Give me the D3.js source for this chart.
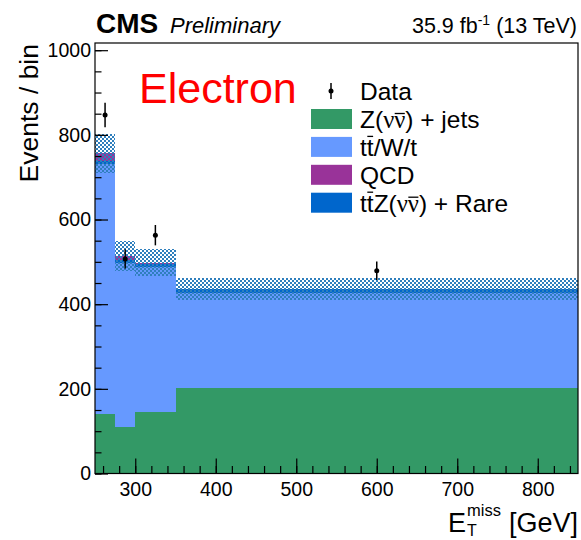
<!DOCTYPE html>
<html>
<head>
<meta charset="utf-8">
<script src="https://cdn.jsdelivr.net/npm/d3@7"></script>
<style>
  body { margin: 0; background: #fff; }
  text { font-family: "Liberation Sans", Arial, sans-serif; fill: #000; }
  .axis text { font-size: 19.5px; font-family: "Liberation Sans", Arial, sans-serif; }
  .axis line { stroke: #000; stroke-width: 1.2; }
  .legend text { font-size: 24.5px; }
  .nu { font-family: "Liberation Serif", serif; }
</style>
</head>
<body>
<div id="chart"></div>
<script>
// bin edges of the MET distribution (GeV)
const binEdges = [250, 275, 300, 350, 850];

// stacked backgrounds, events per bin
const zJets = [140, 111, 146, 202];
const ttW   = [590, 387, 342, 225];
const ttZ   = [8, 6, 7, 8];
const qcd   = [18, 10, 3, 2];
const bkgUnc = [47, 35, 32, 26];

// observed data
const dataY   = [847, 507, 563, 479];
const dataErr = [29, 23, 24, 22];

// ticks
const yMajor = [0, 200, 400, 600, 800, 1000];
const yMinor = d3.range(0, 1001, 50);
const xMajor = [300, 400, 500, 600, 700, 800];
const xMinor = d3.range(260, 850, 20);

const W = 581, H = 540;
const plot = {left: 95, right: 578, top: 43, bottom: 473.5};

const svg = d3.select("#chart")
    .append("svg")
        .attr("width", W)
        .attr("height", H);

// hatch pattern for the uncertainty band
const defs = svg.append("defs");
const pat = defs.append("pattern")
    .attr("id", "hatch")
    .attr("patternUnits", "userSpaceOnUse")
    .attr("width", 4)
    .attr("height", 4);
pat.append("rect").attr("x", 0).attr("y", 0).attr("width", 2).attr("height", 2).attr("fill", "#2f7fbd");
pat.append("rect").attr("x", 2).attr("y", 2).attr("width", 2).attr("height", 2).attr("fill", "#2f7fbd");

const x = d3.scaleLinear().domain([250, 850]).range([plot.left, plot.right]);
const y = d3.scaleLinear().domain([0, 1017]).range([plot.bottom, plot.top]);

// table for the stack
const bins = binEdges.slice(0, -1).map(function(lo, i) {
    return {lo: lo, hi: binEdges[i + 1], z: zJets[i], tt: ttW[i], ttz: ttZ[i], qcd: qcd[i]};
});
const keys = ["z", "tt", "ttz", "qcd"];
const colors = {z: "#339966", tt: "#6699ff", ttz: "#0066cc", qcd: "#993399"};
const series = d3.stack().keys(keys)(bins);

const stackG = svg.append("g");
series.forEach(function(s) {
    stackG.selectAll(null)
        .data(s)
        .enter()
        .append("rect")
            .attr("x", function(d) { return x(d.data.lo); })
            .attr("width", function(d) { return x(d.data.hi) - x(d.data.lo); })
            .attr("y", function(d) { return y(d[1]); })
            .attr("height", function(d) { return y(d[0]) - y(d[1]); })
            .attr("fill", colors[s.key])
            .attr("shape-rendering", "crispEdges");
});

// uncertainty band around the total
const totals = bins.map(function(b) { return b.z + b.tt + b.ttz + b.qcd; });
svg.append("g")
    .selectAll("rect")
    .data(bins)
    .enter()
    .append("rect")
        .attr("x", function(d) { return x(d.lo); })
        .attr("width", function(d) { return x(d.hi) - x(d.lo); })
        .attr("y", function(d, i) { return y(totals[i] + bkgUnc[i]); })
        .attr("height", function(d, i) { return y(totals[i] - bkgUnc[i]) - y(totals[i] + bkgUnc[i]); })
        .attr("fill", "url(#hatch)")
        .attr("shape-rendering", "crispEdges");

// axes
svg.append("g")
    .attr("class", "axis")
    .attr("transform", `translate(${plot.left},0)`)
    .call(d3.axisLeft(y).tickValues(yMajor).tickSize(-13).tickPadding(4).tickFormat(d3.format("d")))
    .call(function(g) { return g.select(".domain").remove(); });
svg.append("g")
    .attr("class", "axis")
    .attr("transform", `translate(${plot.left},0)`)
    .call(d3.axisLeft(y).tickValues(yMinor).tickSize(-6.5).tickFormat(""))
    .call(function(g) { return g.select(".domain").remove(); });

svg.append("g")
    .attr("class", "axis")
    .attr("transform", `translate(0,${plot.bottom})`)
    .call(d3.axisBottom(x).tickValues(xMajor).tickSize(-15).tickPadding(9))
    .call(function(g) { return g.select(".domain").remove(); });
svg.append("g")
    .attr("class", "axis")
    .attr("transform", `translate(0,${plot.bottom})`)
    .call(d3.axisBottom(x).tickValues(xMinor).tickSize(-7.5).tickFormat(""))
    .call(function(g) { return g.select(".domain").remove(); });
svg.selectAll("g.axis").attr("font-family", null).attr("font-size", null);

// data points
const pts = svg.append("g")
    .selectAll("g")
    .data(dataY)
    .enter()
    .append("g");
pts.append("line")
    .attr("x1", function(d, i) { return x((binEdges[i] + binEdges[i + 1]) / 2); })
    .attr("x2", function(d, i) { return x((binEdges[i] + binEdges[i + 1]) / 2); })
    .attr("y1", function(d, i) { return y(d - dataErr[i]); })
    .attr("y2", function(d, i) { return y(d + dataErr[i]); })
    .attr("stroke", "#000")
    .attr("stroke-width", 1.5);
pts.append("circle")
    .attr("cx", function(d, i) { return x((binEdges[i] + binEdges[i + 1]) / 2); })
    .attr("cy", function(d) { return y(d); })
    .attr("r", 2.5)
    .attr("fill", "#000");

// frame
svg.append("rect")
    .attr("x", plot.left)
    .attr("y", plot.top)
    .attr("width", plot.right - plot.left)
    .attr("height", plot.bottom - plot.top)
    .attr("fill", "none")
    .attr("stroke", "#000")
    .attr("stroke-width", 1.2);

// header
svg.append("text")
    .attr("x", 96)
    .attr("y", 33)
    .attr("font-size", 28)
    .attr("font-weight", "bold")
    .text("CMS");
svg.append("text")
    .attr("x", 170)
    .attr("y", 33)
    .attr("font-size", 22)
    .attr("font-style", "italic")
    .text("Preliminary");
const lumi = svg.append("text")
    .attr("x", 577)
    .attr("y", 33)
    .attr("font-size", 21.5)
    .attr("text-anchor", "end");
lumi.append("tspan").text("35.9 fb");
lumi.append("tspan").attr("dy", -8).attr("font-size", 14).text("-1");
lumi.append("tspan").attr("dy", 8).text("\u00A0(13 TeV)");

// red channel label
svg.append("text")
    .attr("x", 139)
    .attr("y", 103)
    .attr("font-size", 43)
    .attr("font-family", "'Open Sans', sans-serif")
    .style("fill", "#ff0000")
    .text("Electron");

// y title
svg.append("text")
    .attr("transform", "translate(38,44) rotate(-90)")
    .attr("font-size", 26.5)
    .attr("text-anchor", "end")
    .text("Events / bin");

// x title: E_T^miss [GeV]
const gev = svg.append("text")
    .attr("x", 578)
    .attr("y", 532)
    .attr("font-size", 27)
    .attr("text-anchor", "end")
    .text("[GeV]");
const gevW = gev.node().getComputedTextLength() + 8;
const miss = svg.append("text")
    .attr("y", 516)
    .attr("font-size", 16.5)
    .text("miss");
const missW = miss.node().getComputedTextLength();
miss.attr("x", 578 - gevW - missW);
svg.append("text")
    .attr("x", 578 - gevW - missW)
    .attr("y", 536)
    .attr("font-size", 16)
    .text("T");
svg.append("text")
    .attr("x", 578 - gevW - missW - 1)
    .attr("y", 532)
    .attr("font-size", 27)
    .attr("text-anchor", "end")
    .text("E");

// legend
const legParts = [
    [["Z(", ""], ["\u03BD", "nu"], ["\u03BD", "nu bar"], [")\u00A0+ jets", ""]],
    [["t", ""], ["t", "tbar"], ["/W/t", ""]],
    [["QCD", ""]],
    [["t", ""], ["t", "tbar"], ["Z(", ""], ["\u03BD", "nu"], ["\u03BD", "nu bar"], [")\u00A0+ Rare", ""]]
];
const legKeys = ["z", "tt", "qcd", "ttz"];
const legend = svg.append("g").attr("class", "legend");
legend.append("line")
    .attr("x1", 331).attr("x2", 331)
    .attr("y1", 83).attr("y2", 99)
    .attr("stroke", "#000").attr("stroke-width", 1.5);
legend.append("circle")
    .attr("cx", 331).attr("cy", 91).attr("r", 2.5).attr("fill", "#000");
legend.append("text")
    .attr("x", 360).attr("y", 91).attr("dy", "0.36em")
    .text("Data");
const rows = legend.selectAll("g.row")
    .data(legKeys)
    .enter()
    .append("g")
        .attr("class", "row")
        .attr("transform", function(d, i) { return `translate(0,${119 + i * 27.9})`; });
rows.append("rect")
    .attr("x", 311).attr("y", -10)
    .attr("width", 41).attr("height", 20)
    .attr("fill", function(d) { return colors[d]; });
rows.append("text")
    .attr("x", 360).attr("y", 9)
    .each(function(d, i) {
        const t = d3.select(this);
        legParts[i].forEach(function(p) {
            t.append("tspan").attr("class", p[1]).text(p[0]);
        });
    });
// overlines for anti-particles
rows.each(function() {
    const row = d3.select(this);
    row.selectAll("tspan.bar, tspan.tbar").each(function() {
        const x0 = this.getStartPositionOfChar(0).x;
        const x1 = this.getEndPositionOfChar(0).x;
        const yy = d3.select(this).classed("tbar") ? -10.5 : -5.5;
        row.append("line")
            .attr("x1", x0 + 0.5).attr("x2", x1 - 0.5)
            .attr("y1", yy).attr("y2", yy)
            .attr("stroke", "#000").attr("stroke-width", 1.3);
    });
});
</script>
</body>
</html>
